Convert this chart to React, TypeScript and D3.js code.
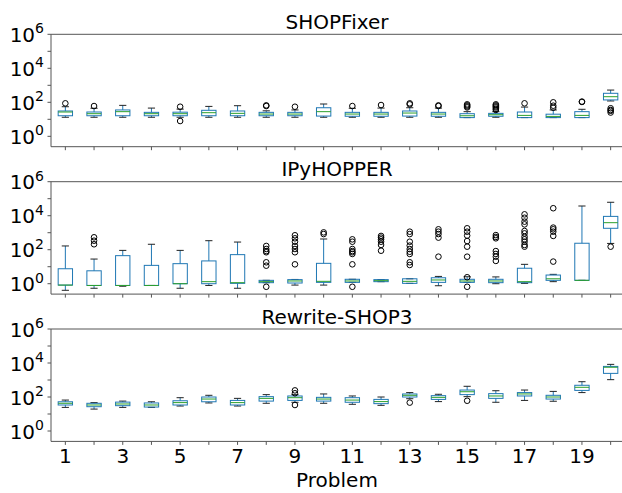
import React from "react";
import * as d3 from "d3";

// ---------- data ----------
const problems = d3.range(1, 21);
const panelTitles = ["SHOPFixer", "IPyHOPPER", "Rewrite-SHOP3"];
const yTickExponents = [0, 1, 2, 3, 4, 5, 6];
const xLabelProblems = [1, 3, 5, 7, 9, 11, 13, 15, 17, 19];

// SHOPFixer
const shopQ1 = [16.2, 16.2, 16.2, 16.2, 16.2, 16.2, 16.2, 16.2, 16.2, 15.5, 15.1, 15.1, 15.5, 15.1, 12.6, 15.1, 12.6, 12.6, 12.6, 138];
const shopMed = [26.9, 21.4, 28.2, 21.4, 21.4, 24.5, 22.4, 20.4, 20.4, 28.2, 20.4, 20.4, 23.4, 20.4, 16.2, 18.6, 17, 14.8, 17, 214];
const shopQ3 = [30.9, 26.9, 35.5, 25.7, 26.3, 33.9, 30.9, 25.7, 25.7, 47.9, 25.7, 25.7, 30.9, 25.7, 21.4, 22.4, 26.9, 20, 28.2, 339];
const shopLo = [13.2, 13.2, 13.2, 13.2, 13.2, 13.2, 13.2, 13.2, 13.2, 13.2, 13.2, 13.2, 13.2, 13.2, 12.6, 13.2, 12.6, 12.6, 12.6, 120];
const shopHi = [55, 44.7, 66.1, 45.7, 39.8, 57.5, 63.1, 31.6, 35.5, 79.4, 44.7, 45.7, 47.9, 45.7, 28.2, 28.2, 52.5, 35.5, 38.9, 525];
const shopOut = [
  [87.1], [60.3], [], [], [55, 7.94], [], [], [66.1, 60.3], [55], [],
  [60.3], [69.2], [87.1, 75.9], [66.1, 60.3], [75.9, 66.1, 57.5, 50.1],
  [75.9, 66.1, 57.5, 50.1, 41.7, 35.5], [87.1], [100, 63.1, 47.9], [110, 105], [44.7, 35.5, 31.6, 25],
];

// IPyHOPPER
const ipyQ1 = [0.83, 0.79, 0.79, 0.79, 1, 1, 1.05, 1.15, 1.1, 1.2, 1.2, 1.32, 1.05, 1.2, 1.2, 1.15, 1.15, 1.58, 1.58, 1820];
const ipyMed = [0.83, 0.79, 0.79, 0.79, 1, 1.32, 1.15, 1.32, 1.45, 1.38, 1.45, 1.51, 1.38, 1.66, 1.45, 1.45, 1.32, 1.95, 1.58, 3890];
const ipyQ3 = [7.59, 5.75, 44.7, 12, 15.1, 21.9, 51.3, 1.58, 1.74, 15.8, 1.82, 1.74, 1.95, 2.24, 1.82, 1.82, 8.13, 3.24, 240, 9120];
const ipyLo = [0.41, 0.54, 0.71, 0.79, 0.54, 0.79, 0.54, 1.15, 0.83, 0.83, 1.2, 1.32, 1.05, 0.76, 1.2, 1, 1.05, 1.32, 1.58, 234];
const ipyHi = [166, 28.2, 91.2, 209, 91.2, 339, 282, 1.58, 1.78, 427, 1.82, 1.74, 1.95, 2.69, 2.57, 2.51, 13.8, 3.55, 37154, 61660];
const ipyOut = [
  [], [537, 339, 209], [], [], [], [], [],
  [166, 110, 83.2, 70.8, 18.2, 11.5, 0.66],
  [708, 468, 295, 166, 110, 70.8, 13.8],
  [1047, 832],
  [407, 295, 110, 83.2, 70.8, 56.2, 13.8, 0.66],
  [646, 513, 407, 295, 191, 87.1],
  [1148, 832, 295, 174, 110, 75.9, 56.2, 18.2, 12.6],
  [1585, 1148, 832, 513, 38.9],
  [1820, 1148, 676, 324, 151, 38.9, 2.4, 0.66],
  [724, 562, 468, 83.2, 56.2, 38.9, 21.9],
  [12023, 7586, 4467, 3090, 1259, 912, 575, 407, 295, 191, 151],
  [27542, 1995, 1585, 1148, 646, 20],
  [],
  [151],
];

// Rewrite-SHOP3
const rsQ1 = [33.9, 26.9, 30.9, 25.7, 33.9, 52.5, 33.9, 57.5, 63.1, 57.5, 49, 40.7, 100, 72.4, 138, 83.2, 115, 75.9, 245, 2455];
const rsMed = [42.7, 33.9, 38.9, 33.9, 46.8, 75.9, 46.8, 83.2, 91.2, 75.9, 66.1, 53.7, 126, 95.5, 204, 115, 151, 100, 372, 5623];
const rsQ3 = [52.5, 42.7, 50.1, 44.7, 60.3, 100, 63.1, 105, 115, 95.5, 91.2, 72.4, 151, 120, 257, 158, 182, 126, 490, 6310];
const rsLo = [24.5, 19.5, 24.5, 24.5, 29.5, 44.7, 29.5, 42.7, 49, 42.7, 37.2, 32.4, 79.4, 53.7, 105, 49, 63.1, 56.2, 182, 1047];
const rsHi = [66.1, 46.8, 57.5, 52.5, 91.2, 126, 83.2, 138, 138, 151, 115, 100, 182, 145, 427, 234, 257, 214, 794, 8318];
const rsOut = [
  [], [], [], [], [], [], [], [], [245, 166, 33.9], [],
  [], [], [46.8], [], [60.3], [], [], [], [], [],
];

const panelQ1 = [shopQ1, ipyQ1, rsQ1];
const panelMed = [shopMed, ipyMed, rsMed];
const panelQ3 = [shopQ3, ipyQ3, rsQ3];
const panelLo = [shopLo, ipyLo, rsLo];
const panelHi = [shopHi, ipyHi, rsHi];
const panelOut = [shopOut, ipyOut, rsOut];

// ---------- layout ----------
const W = 622;
const H = 493;
const LEFT = 51;
const PLOT_W = 574;
const PANEL_TOPS = [34.3, 181.7, 329];
const PANEL_H = 112.4;
const FONT = "'DejaVu Sans', sans-serif";
const C_BOX = "#1f77b4";
const C_MED = "#2ca02c";
const C_AXIS = "#555";

const x = d3.scaleLinear().domain([0.5, 20.5]).range([LEFT, LEFT + PLOT_W]);
const BOX_HALF = x(1.25) - x(1);
const CAP_HALF = BOX_HALF / 2;
const TITLE_X = x(0.5) + 286;

function Panel({ idx }: { idx: number }) {
  const top = PANEL_TOPS[idx];
  const bottom = top + PANEL_H;
  const y = d3.scaleLog().domain([0.245, 1e6]).range([bottom, top]);
  const q1 = panelQ1[idx], med = panelMed[idx], q3 = panelQ3[idx];
  const lo = panelLo[idx], hi = panelHi[idx], outs = panelOut[idx];
  return (
    <g>
      <text x={TITLE_X} y={top - 5.5} textAnchor="middle" fontSize={20} fontFamily={FONT} fill="#000">
        {panelTitles[idx]}
      </text>
      {problems.map((p, i) => {
        const cx = x(p);
        return (
          <g key={p}>
            <line x1={cx} x2={cx} y1={y(q3[i])} y2={y(hi[i])} stroke={C_BOX} strokeWidth={1} />
            <line x1={cx} x2={cx} y1={y(q1[i])} y2={y(lo[i])} stroke={C_BOX} strokeWidth={1} />
            <line x1={cx - CAP_HALF} x2={cx + CAP_HALF} y1={y(hi[i])} y2={y(hi[i])} stroke="#222" strokeWidth={1} />
            <line x1={cx - CAP_HALF} x2={cx + CAP_HALF} y1={y(lo[i])} y2={y(lo[i])} stroke="#222" strokeWidth={1} />
            <rect x={cx - BOX_HALF} y={y(q3[i])} width={BOX_HALF * 2} height={Math.max(0.5, y(q1[i]) - y(q3[i]))}
              fill="none" stroke={C_BOX} strokeWidth={1} />
            <line x1={cx - BOX_HALF} x2={cx + BOX_HALF} y1={y(med[i])} y2={y(med[i])} stroke={C_MED} strokeWidth={1} />
            {outs[i].map((v, k) => (
              <circle key={k} cx={cx} cy={y(v)} r={2.8} fill="none" stroke="#000" strokeWidth={1} />
            ))}
          </g>
        );
      })}
      <line x1={LEFT} x2={LEFT + PLOT_W} y1={top} y2={top} stroke={C_AXIS} strokeWidth={1} />
      <line x1={LEFT} x2={LEFT + PLOT_W} y1={bottom} y2={bottom} stroke={C_AXIS} strokeWidth={1} />
      <line x1={LEFT} x2={LEFT} y1={top} y2={bottom} stroke={C_AXIS} strokeWidth={1} />
      <line x1={LEFT + PLOT_W} x2={LEFT + PLOT_W} y1={top} y2={bottom} stroke={C_AXIS} strokeWidth={1} />
      {yTickExponents.map((e) => {
        const yy = y(Math.pow(10, e));
        return (
          <g key={e}>
            <line x1={LEFT - 3.5} x2={LEFT} y1={yy} y2={yy} stroke={C_AXIS} strokeWidth={1} />
            {e % 2 === 0 && (
              <text x={44} y={yy + 7.6} textAnchor="end" fontSize={20} fontFamily={FONT} fill="#000">
                10<tspan dy={-8.5} fontSize={14}>{e}</tspan>
              </text>
            )}
          </g>
        );
      })}
      {problems.map((p) => (
        <line key={p} x1={x(p)} x2={x(p)} y1={bottom} y2={bottom + 3.5} stroke={C_AXIS} strokeWidth={1} />
      ))}
      {idx === 2 &&
        xLabelProblems.map((p) => (
          <text key={p} x={x(p)} y={bottom + 22} textAnchor="middle" fontSize={20} fontFamily={FONT} fill="#000">
            {p}
          </text>
        ))}
    </g>
  );
}

export default function App() {
  return (
    <svg width={W} height={H} style={{ position: "absolute", left: 0, top: 0, background: "#fff" }}>
      <rect x={0} y={0} width={W} height={H} fill="#fff" />
      {[0, 1, 2].map((i) => (
        <Panel key={i} idx={i} />
      ))}
      <text x={TITLE_X} y={487} textAnchor="middle" fontSize={20} fontFamily={FONT} fill="#000">
        Problem
      </text>
    </svg>
  );
}
